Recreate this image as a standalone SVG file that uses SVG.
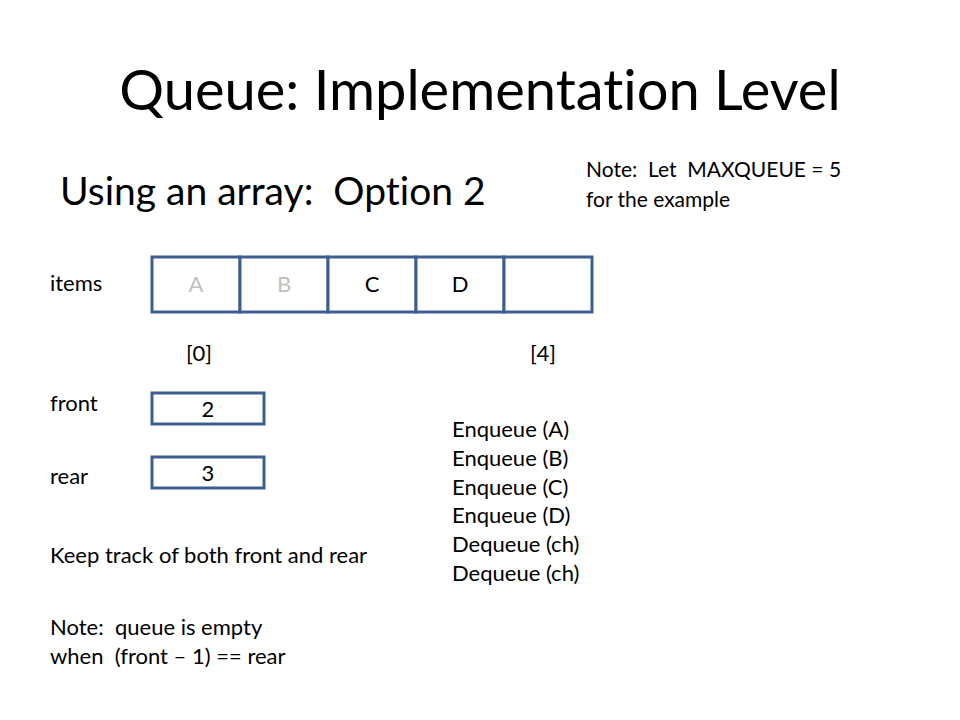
<svg xmlns="http://www.w3.org/2000/svg" width="960" height="720" viewBox="0 0 960 720">
<style>
text{font-family:Lato,"Open Sans","Liberation Sans",sans-serif;fill:#000;font-variant-ligatures:none}
.b{font-size:22px}
.n{font-size:21px}
.cell{fill:#fff;stroke:#3C5E8E;stroke-width:3}
.c{text-anchor:middle}
.g{fill:#BFBFBF}
</style>
<rect width="960" height="720" fill="#fff"/>
<text x="480" y="110" class="c" style="font-size:56px">Queue:  Implementation Level</text>
<text x="60" y="205" style="font-size:39px" xml:space="preserve">Using an array:  Option 2</text>
<text x="586" y="177" class="n" xml:space="preserve">Note:  Let  MAXQUEUE = 5</text>
<text x="586" y="207" class="n">for the example</text>
<g id="items">
<text x="50" y="291" class="b">items</text>
<rect class="cell" x="152" y="257" width="88" height="55"/>
<rect class="cell" x="240" y="257" width="88" height="55"/>
<rect class="cell" x="328" y="257" width="88" height="55"/>
<rect class="cell" x="416" y="257" width="88" height="55"/>
<rect class="cell" x="504" y="257" width="88" height="55"/>
<text x="196" y="292" class="b c g">A</text>
<text x="284" y="292" class="b c g">B</text>
<text x="372" y="292" class="b c">C</text>
<text x="460" y="292" class="b c">D</text>
</g>
<text x="199" y="361" class="b c">[0]</text>
<text x="543" y="361" class="b c">[4]</text>
<g id="front">
<text x="50" y="411" class="b">front</text>
<rect class="cell" x="152" y="393" width="112" height="31"/>
<text x="208" y="417" class="b c">2</text>
</g>
<g id="rear">
<text x="50" y="484" class="b">rear</text>
<rect class="cell" x="152" y="457" width="112" height="31"/>
<text x="208" y="481" class="b c">3</text>
</g>
<g id="ops" class="b">
<text x="452" y="437">Enqueue (A)</text>
<text x="452" y="466">Enqueue (B)</text>
<text x="452" y="495">Enqueue (C)</text>
<text x="452" y="523">Enqueue (D)</text>
<text x="452" y="552">Dequeue (ch)</text>
<text x="452" y="581">Dequeue (ch)</text>
</g>
<text x="50" y="563" class="b">Keep track of both front and rear</text>
<text x="50" y="635" class="b" xml:space="preserve">Note:  queue is empty</text>
<text x="50" y="664" class="b" xml:space="preserve">when  (front – 1) == rear</text>
</svg>
